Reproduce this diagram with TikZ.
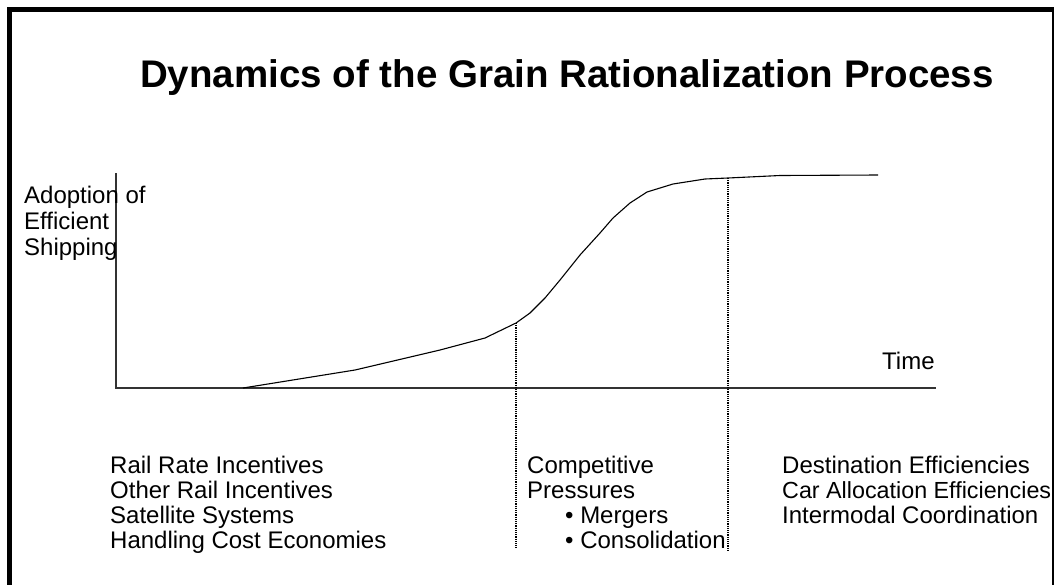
\documentclass[tikz,border=0pt]{standalone}
\usepackage{fontspec}
\setmainfont{Liberation Sans}
\begin{document}
\begin{tikzpicture}[x=1pt,y=-1pt,
  txt/.style={anchor=base west, inner sep=0pt, font=\fontsize{24}{25}\selectfont},
  ttl/.style={anchor=base, inner sep=0pt, font=\fontsize{38.5}{40}\selectfont\bfseries},
  axisline/.style={draw=black!80, line width=1.1pt},
  curveline/.style={draw=black, line width=1.1pt, line join=round},
  dotline/.style={draw=black, line width=1.3pt, dash pattern=on 1.2pt off 1pt},
  frame/.style={draw=black, line width=5pt}]
\useasboundingbox (0,0) rectangle (1054,584);
\fill[white] (0,0) rectangle (1054,584);
\draw[frame] (9.5,600) -- (9.5,9.5) -- (1054.5,9.5) -- (1054.5,600);

% title
\node[ttl] (title) at (567,87) {Dynamics of the Grain Rationalization Process};

% axes
\coordinate (yTop) at (116,173);
\coordinate (orig) at (116,388);
\coordinate (xEnd) at (936,388);
\draw[axisline] (yTop) -- (orig) -- (xEnd);

% curve
\coordinate (c0) at (243,388);
\coordinate (m1) at (516,323);
\coordinate (m2) at (728,178);
\coordinate (cE) at (878,175);
\draw[curveline] (c0) -- (355,370) -- (440,350) -- (485,338) -- (m1) -- (530,313) -- (545,298)
  -- (560,280) -- (580,255) -- (600,233) -- (613,218) -- (630,203) -- (647,192) -- (673,184)
  -- (705,179) -- (m2) -- (780,175.5) -- (cE);

% dotted lines
\coordinate (d1) at (516,548);
\coordinate (d2) at (728,550);
\draw[dotline] (m1) -- (d1);
\draw[dotline] (m2) -- (d2);

% axis labels
\node[txt] (ya) at (24,203) {Adoption of};
\node[txt] (yb) at (24,229) {Efficient};
\node[txt] (yc) at (24,255) {Shipping};
\node[txt] (time) at (882,369) {Time};

% left column
\node[txt] (l1) at (110,473) {Rail Rate Incentives};
\node[txt] (l2) at (110,498) {Other Rail Incentives};
\node[txt] (l3) at (110,523) {Satellite Systems};
\node[txt] (l4) at (110,548) {Handling Cost Economies};

% middle column
\node[txt] (m1t) at (527,473) {Competitive};
\node[txt] (m2t) at (527,498) {Pressures};
\node[txt] (m3t) at (565,523) {• Mergers};
\node[txt] (m4t) at (565,548) {• Consolidation};

% right column
\node[txt] (r1) at (782,473) {Destination Efficiencies};
\node[txt, font=\fontsize{23.3}{25}\selectfont] (r2) at (782,498) {Car Allocation Efficiencies};
\node[txt] (r3) at (782,523) {Intermodal Coordination};

% right frame edge drawn over the text
\draw[frame] (1054.5,9.5) -- (1054.5,600);
\end{tikzpicture}
\end{document}
